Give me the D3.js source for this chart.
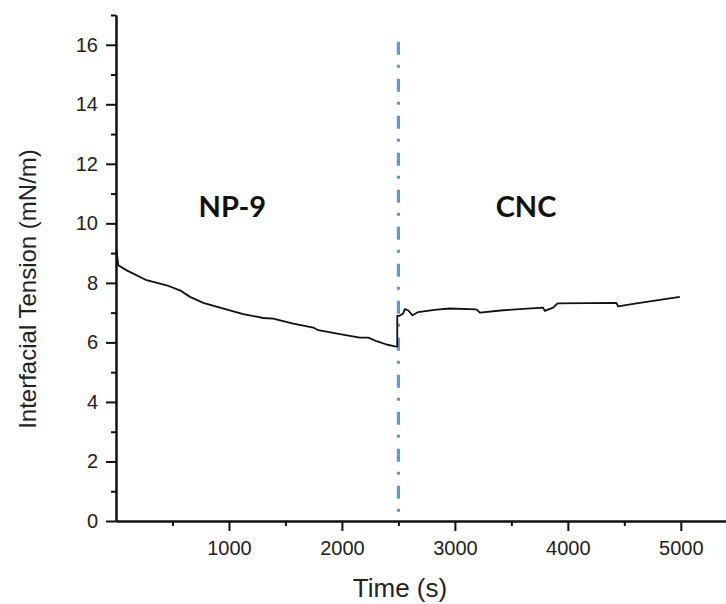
<!DOCTYPE html>
<html>
<head>
<meta charset="utf-8">
<script src="https://cdn.jsdelivr.net/npm/d3@7"></script>
<style>
  body { margin: 0; background: #fff; }
  .axis text { font-family: "Liberation Sans", Arial, sans-serif; font-size: 20px; fill: #222; }
  .axis path, .axis line { stroke: #111; stroke-width: 2; }
</style>
</head>
<body>
<div id="chart"></div>
<script>
// tension trace, time (s) vs interfacial tension (mN/m)
var np9_time = [0, 5, 20, 95, 271, 448, 566, 655, 773, 920, 1127, 1304, 1392, 1569, 1746, 1790, 1982, 2159, 2233, 2307, 2395, 2469, 2490];
var np9_tension = [9.07, 9.1, 8.59, 8.42, 8.09, 7.92, 7.75, 7.53, 7.33, 7.17, 6.95, 6.82, 6.80, 6.63, 6.50, 6.41, 6.28, 6.16, 6.16, 6.04, 5.93, 5.87, 5.86];

var cnc_time = [2490, 2506, 2542, 2557, 2586, 2625, 2675, 2837, 2956, 3191, 3221, 3427, 3781, 3796, 3870, 3899, 3914, 4430, 4445, 4608, 4991];
var cnc_tension = [6.89, 6.89, 6.97, 7.12, 7.08, 6.91, 7.02, 7.10, 7.14, 7.11, 7.00, 7.08, 7.17, 7.06, 7.17, 7.28, 7.31, 7.33, 7.21, 7.31, 7.53];

var marker_time = [2500, 2500];
var marker_tension = [16.1, 0.2];

var phase_labels = ["NP-9", "CNC"];
var phase_time = [1030, 3630];
var phase_tension = [10.2, 10.2];

var x_major = [1000, 2000, 3000, 4000, 5000];
var x_minor = [500, 1500, 2500, 3500, 4500];
var y_major = [0, 2, 4, 6, 8, 10, 12, 14, 16];
var y_minor = [1, 3, 5, 7, 9, 11, 13, 15, 17];

var width = 726, height = 604;
var svg = d3.select('#chart').append('svg')
  .attr('width', width).attr('height', height);

var xscale = d3.scaleLinear().domain([0, 5400]).range([116, 726]);
var yscale = d3.scaleLinear().domain([0, 17]).range([521, 15]);

// minor ticks first, then majors with labels
svg.append('g').attr('class', 'axis')
  .attr('transform', 'translate(0,521)')
  .call(d3.axisBottom(xscale).tickValues(x_minor).tickSize(5).tickSizeOuter(0).tickFormat(''));
svg.append('g').attr('class', 'axis')
  .attr('transform', 'translate(0,521)')
  .call(d3.axisBottom(xscale).tickValues(x_major).tickSize(10).tickSizeOuter(0).tickPadding(10).tickFormat(d3.format('d')));

svg.append('g').attr('class', 'axis')
  .attr('transform', 'translate(116,0)')
  .call(d3.axisLeft(yscale).tickValues(y_minor).tickSize(5).tickSizeOuter(0).tickFormat(''));
svg.append('g').attr('class', 'axis')
  .attr('transform', 'translate(116,0)')
  .call(d3.axisLeft(yscale).tickValues(y_major).tickSize(10).tickSizeOuter(0).tickPadding(8).tickFormat(d3.format('d')));

var line = d3.line()
  .x(function(d) { return xscale(d[0]); })
  .y(function(d) { return yscale(d[1]); });

// dash-dot marker where CNC was added
svg.append('path')
  .attr('fill', 'none').attr('stroke', '#5b9bd5').attr('stroke-width', 3.2)
  .attr('stroke-dasharray', '13,10,3,11')
  .attr('d', line(d3.zip(marker_time, marker_tension)));

// one continuous trace, the jump at 2500 s included
svg.append('path')
  .attr('fill', 'none').attr('stroke', '#111').attr('stroke-width', 1.8)
  .attr('stroke-linejoin', 'round')
  .attr('d', line(d3.zip(np9_time.concat(cnc_time), np9_tension.concat(cnc_tension))));

svg.selectAll('.phase').data(phase_labels).enter().append('text')
  .attr('class', 'phase')
  .attr('x', function(d, i) { return xscale(phase_time[i]); })
  .attr('y', function(d, i) { return yscale(phase_tension[i]); })
  .attr('text-anchor', 'middle')
  .style('font-family', 'Lato, "Open Sans", sans-serif')
  .style('font-weight', 'bold').style('font-size', '29px').style('fill', '#111')
  .text(function(d) { return d; });

// axis titles
svg.append('text')
  .attr('x', 400).attr('y', 597).attr('text-anchor', 'middle')
  .style('font-family', '"Liberation Sans", Arial, sans-serif').style('font-size', '26px').style('fill', '#222')
  .text('Time (s)');
svg.append('text')
  .attr('transform', 'translate(36,289) rotate(-90)').attr('text-anchor', 'middle')
  .style('font-family', '"Liberation Sans", Arial, sans-serif').style('font-size', '24px').style('fill', '#222')
  .text('Interfacial Tension (mN/m)');
</script>
</body>
</html>
